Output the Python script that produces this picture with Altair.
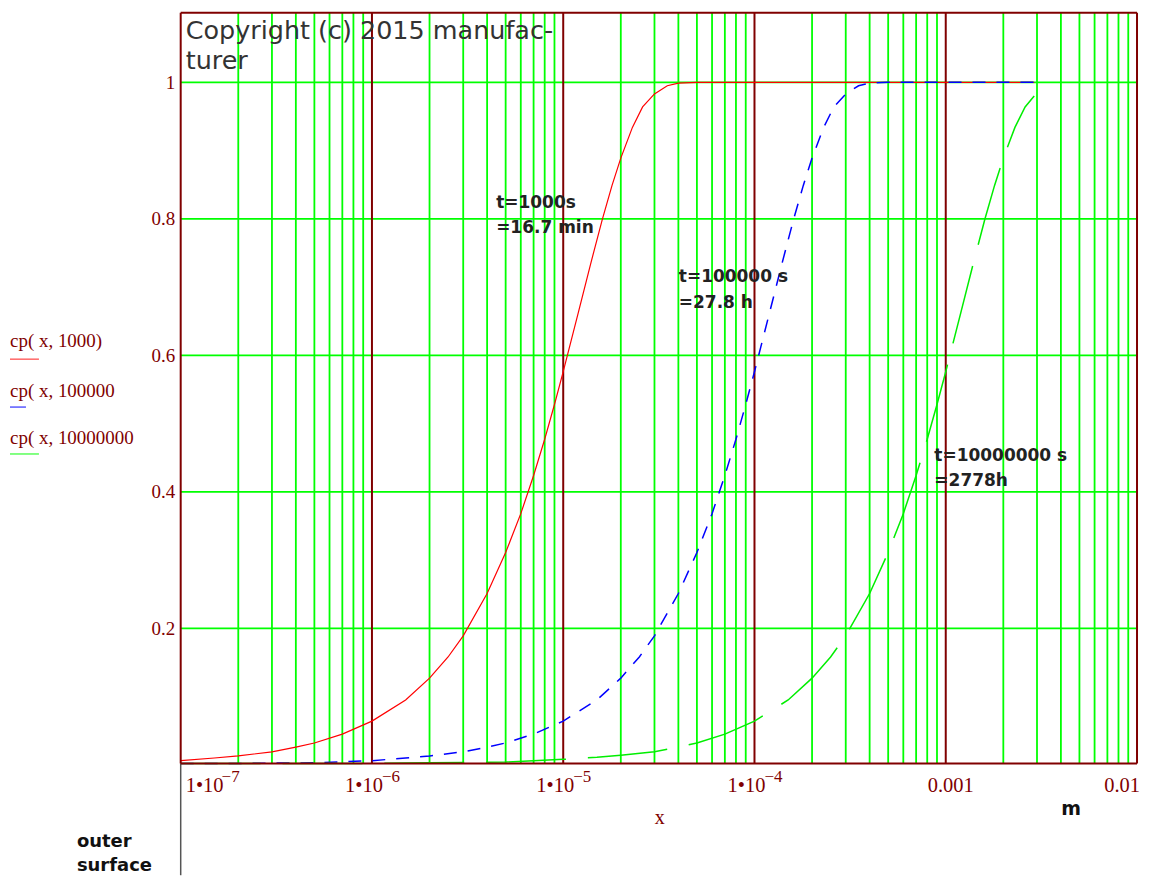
import altair as alt
import pandas as pd

# ---------------- data ----------------
red_x = [1e-7, 1.5e-7, 2e-7, 3e-7, 4e-7, 5e-7, 7e-7, 1e-6, 1.5e-6, 2e-6, 2.5e-6, 3e-6,
         4e-6, 5e-6, 6e-6, 7e-6, 8e-6, 9e-6, 1e-5, 1.2e-5, 1.4e-5, 1.6e-5, 1.8e-5, 2e-5,
         2.3e-5, 2.6e-5, 3e-5, 3.5e-5, 4e-5, 5e-5, 1e-4, 1e-3, 2.9e-3]
red_y = [0.006, 0.010, 0.013, 0.019, 0.026, 0.032, 0.045, 0.064, 0.095, 0.127, 0.158, 0.189,
         0.251, 0.311, 0.368, 0.424, 0.477, 0.528, 0.576, 0.663, 0.737, 0.799, 0.849, 0.889,
         0.934, 0.964, 0.983, 0.995, 0.999, 1.0, 1.0, 1.0, 1.0]

blue_x = [1e-7, 2e-7, 5e-7, 1e-6, 1.5e-6, 2e-6, 3e-6, 4e-6, 5e-6, 7e-6, 1e-5, 1.5e-5,
          2e-5, 2.5e-5, 3e-5, 4e-5, 5e-5, 6e-5, 7e-5, 8e-5, 9e-5, 1e-4, 1.2e-4, 1.4e-4,
          1.6e-4, 1.8e-4, 2e-4, 2.3e-4, 2.6e-4, 3e-4, 3.5e-4, 4e-4, 5e-4, 1e-3, 2.9e-3]
blue_y = [0.002, 0.002, 0.003, 0.006, 0.010, 0.013, 0.019, 0.026, 0.032, 0.045, 0.064, 0.095,
          0.127, 0.158, 0.189, 0.251, 0.311, 0.368, 0.424, 0.477, 0.528, 0.576, 0.663, 0.737,
          0.799, 0.849, 0.889, 0.934, 0.964, 0.983, 0.995, 0.999, 1.0, 1.0, 1.0]

green_x = [1e-7, 1e-6, 2e-6, 5e-6, 1e-5, 1.5e-5, 2e-5, 3e-5, 4e-5, 5e-5, 7e-5, 1e-4,
           1.5e-4, 2e-4, 2.5e-4, 3e-4, 4e-4, 5e-4, 6e-4, 7e-4, 8e-4, 9e-4, 1e-3, 1.2e-3,
           1.4e-3, 1.6e-3, 1.8e-3, 2e-3, 2.3e-3, 2.6e-3, 2.9e-3]
green_y = [0.002, 0.002, 0.003, 0.004, 0.008, 0.011, 0.014, 0.019, 0.026, 0.032, 0.045, 0.064,
           0.095, 0.127, 0.158, 0.189, 0.251, 0.311, 0.368, 0.424, 0.477, 0.528, 0.576, 0.663,
           0.737, 0.799, 0.849, 0.889, 0.934, 0.964, 0.980]

decades_inner = [1e-6, 1e-5, 1e-4, 1e-3]
minor_mult = [2, 3, 4, 5, 6, 7, 8, 9]
minor_decades = [1e-7, 1e-6, 1e-5, 1e-4, 1e-3]
y_grid = [0.2, 0.4, 0.6, 0.8, 1.0]

mid_ticks = [1e-6, 1e-5, 1e-4]
mid_exp = ["\u22126", "\u22125", "\u22124"]

# ---------------- styling ----------------
MAROON = "#800000"
GREEN = "#00FF00"
SERIF = "Liberation Serif"
SANS = "DejaVu Sans"

x_scale = alt.Scale(type="log", domain=[1e-7, 1e-2], nice=False)
y_scale = alt.Scale(domain=[0.002, 1.102], nice=False, zero=False)
y_axis = alt.Axis(values=y_grid, format="~g", title=None, grid=False, ticks=False,
                  domain=False, labelFont=SERIF, labelFontSize=19,
                  labelColor=MAROON, labelPadding=6)

minor_df = pd.DataFrame({"x": [m * d for d in minor_decades for m in minor_mult]})
dec_df = pd.DataFrame({"x": decades_inner})
ygrid_df = pd.DataFrame({"y": y_grid})


def X():
    return alt.X("x:Q", scale=x_scale, axis=None)


def Y():
    return alt.Y("y:Q", scale=y_scale, axis=y_axis)


grid_v = alt.Chart(minor_df).mark_rule(color=GREEN, strokeWidth=1.8).encode(x=X())
grid_h = alt.Chart(ygrid_df).mark_rule(color=GREEN, strokeWidth=1.8).encode(y=Y())
dec_rules = alt.Chart(dec_df).mark_rule(color=MAROON, strokeWidth=2).encode(x=X())


def curve(xs, ys, color, width, dash=None):
    df = pd.DataFrame({"x": xs, "y": ys})
    kw = dict(color=color, strokeWidth=width, interpolate="linear")
    if dash:
        kw["strokeDash"] = dash
    return alt.Chart(df).mark_line(**kw).encode(x=X(), y=Y())


red = curve(red_x, red_y, "#FF0000", 1.2)
blue = curve(blue_x, blue_y, "#0000FF", 1.5, [13, 11])
green = curve(green_x, green_y, "#00EE00", 1.5, [80, 22])

one = pd.DataFrame({"a": [0]})


def label(txt, x, y, size, font=SANS, color="#222222", weight="normal", align="left"):
    return alt.Chart(one).mark_text(align=align, baseline="alphabetic", font=font,
                                    fontSize=size, fontWeight=weight, color=color).encode(
        x=alt.value(x), y=alt.value(y), text=alt.value(txt))


# x-axis tick labels (drawn through the x scale)
mid_df = pd.DataFrame({"x": mid_ticks, "exp": mid_exp})
xl_mid = alt.Chart(mid_df).mark_text(align="right", baseline="alphabetic", dx=11, font=SERIF,
                                     fontSize=20.5, color=MAROON).encode(
    x=X(), y=alt.value(781), text=alt.value("1\u202210"))
xl_mid_e = alt.Chart(mid_df).mark_text(align="left", baseline="alphabetic", dx=10, font=SERIF,
                                       fontSize=17, color=MAROON).encode(
    x=X(), y=alt.value(771), text="exp:N")
first_df = pd.DataFrame({"x": [1e-7]})
xl_first = alt.Chart(first_df).mark_text(align="left", baseline="alphabetic", dx=5, font=SERIF,
                                         fontSize=20.5, color=MAROON).encode(
    x=X(), y=alt.value(781), text=alt.value("1\u202210"))
xl_first_e = alt.Chart(first_df).mark_text(align="left", baseline="alphabetic", dx=41, font=SERIF,
                                           fontSize=17, color=MAROON).encode(
    x=X(), y=alt.value(771), text=alt.value("\u22127"))
xl_3 = alt.Chart(pd.DataFrame({"x": [1e-3]})).mark_text(
    align="center", baseline="alphabetic", dx=5, font=SERIF, fontSize=20.5, color=MAROON).encode(
    x=X(), y=alt.value(781), text=alt.value("0.001"))
xl_2 = alt.Chart(pd.DataFrame({"x": [1e-2]})).mark_text(
    align="right", baseline="alphabetic", dx=3, font=SERIF, fontSize=20.5, color=MAROON).encode(
    x=X(), y=alt.value(781), text=alt.value("0.01"))

texts = [
    label("Copyright (c) 2015 manufac-", 5, 26, 25.5, color="#333333"),
    label("turer", 5, 56, 25.5, color="#333333"),
    label("t=1000s", 316, 196, 17, weight="bold"),
    label("=16.7 min", 316, 221, 17, weight="bold"),
    label("t=100000 s", 499, 270, 17, weight="bold"),
    label("=27.8 h", 499, 296, 17, weight="bold"),
    label("t=10000000 s", 755, 449, 17, weight="bold"),
    label("=2778h", 755, 474, 17, weight="bold"),
    label("x", 480, 813, 20, font=SERIF, color=MAROON, align="center"),
    label("m", 892, 804, 19, weight="bold", color="#111111", align="center"),
    label("outer", -104, 836, 18, weight="bold", color="#111111"),
    label("surface", -104, 860, 18, weight="bold", color="#111111"),
    label("cp( x, 1000)", -171, 335, 19, font=SERIF, color=MAROON),
    label("cp( x, 100000", -171, 385, 19, font=SERIF, color=MAROON),
    label("cp( x, 10000000", -171, 432, 19, font=SERIF, color=MAROON),
]


def seg(x1, x2, y1, y2, color, w):
    return alt.Chart(one).mark_rule(color=color, strokeWidth=w).encode(
        x=alt.value(x1), x2=alt.value(x2), y=alt.value(y1), y2=alt.value(y2))


decor = [
    seg(-171, -142, 347, 347, "#FF4040", 1.2),
    seg(-171, -155, 395, 395, "#3030FF", 1.2),
    seg(-171, -142, 442, 442, "#30FF30", 1.2),
    seg(0, 0, 752, 864, "#555555", 1.5),
    # plot frame
    seg(0, 958, 0, 0, MAROON, 2),
    seg(0, 958, 752, 752, MAROON, 2),
    seg(0, 0, 0, 752, MAROON, 2),
    seg(958, 958, 0, 752, MAROON, 2),
]

chart = alt.layer(
    grid_v, grid_h, dec_rules, red, blue, green,
    xl_mid, xl_mid_e, xl_first, xl_first_e, xl_3, xl_2,
    *texts, *decor
).properties(
    width=958, height=752,
    background="white",
    autosize=alt.AutoSizeParams(type="none"),
    padding={"left": 173, "top": 4, "right": 6, "bottom": 112},
).configure_view(stroke=None)

chart.save("out.html", embed_options={"renderer": "svg", "actions": False})
